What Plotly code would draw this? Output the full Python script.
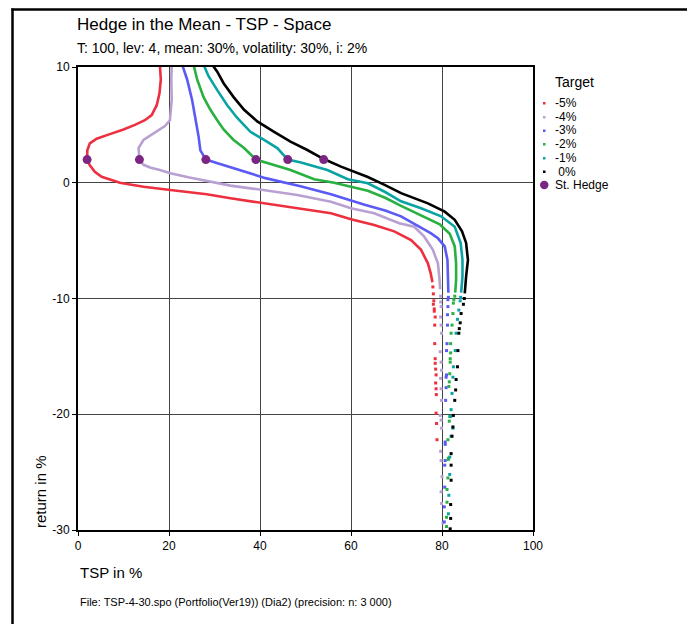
import plotly.graph_objects as go

# ---------------- data ----------------
series_names = ["-5%", "-4%", "-3%", "-2%", "-1%", "0%"]
series_colors = ["#ec3040", "#b9a0d2", "#5a5af5", "#28b040", "#0aa3a3", "#000000"]

# dense (connected) part of each curve: TSP in %, return in %
red_x = [18.0, 18.2, 17.9, 17.3, 16.2, 14.7, 12.5, 10.0, 7.0, 4.1, 2.6, 2.05, 2.0, 2.6, 3.7, 5.2, 9.2, 14.4, 20.3, 28.3, 33.5, 40.1, 48.2, 55.6, 60.0, 65.1, 69.5, 73.2, 75.4, 76.9, 77.5, 77.9]
red_y = [10.2, 8.9, 7.7, 6.7, 5.85, 5.4, 5.0, 4.6, 4.2, 3.8, 3.4, 2.8, 2.0, 1.5, 0.95, 0.52, 0.0, -0.35, -0.63, -1.0, -1.34, -1.72, -2.2, -2.64, -3.16, -3.65, -4.2, -4.95, -5.8, -6.96, -7.8, -8.6]

lav_x = [20.6, 20.5, 20.6, 20.2, 19.1, 16.6, 14.4, 13.3, 13.5, 14.4, 16.0, 18.0, 20.3, 24.5, 29.1, 33.5, 40.7, 48.2, 55.6, 60.0, 65.1, 70.6, 73.9, 76.1, 78.0, 79.1, 79.4, 79.6]
lav_y = [10.2, 8.9, 7.2, 5.4, 4.9, 4.3, 3.7, 3.0, 2.0, 1.55, 1.3, 1.1, 0.82, 0.45, 0.09, -0.25, -0.63, -1.06, -1.64, -2.2, -2.64, -3.5, -3.8, -4.66, -5.8, -6.96, -8.1, -9.2]

blue_x = [22.9, 24.0, 25.1, 25.8, 26.5, 26.9, 28.1, 30.5, 34.2, 41.2, 48.9, 55.6, 63.0, 67.5, 71.0, 74.7, 77.6, 79.1, 80.6, 81.2, 81.3, 81.4]
blue_y = [10.2, 8.9, 7.1, 5.6, 4.0, 2.8, 2.0, 1.7, 1.25, 0.4, -0.3, -1.0, -1.9, -2.4, -2.9, -3.7, -4.37, -4.8, -5.5, -6.67, -8.1, -9.5]

green_x = [25.4, 26.2, 27.6, 29.1, 30.6, 32.0, 34.2, 36.5, 39.1, 41.6, 46.7, 51.9, 56.3, 63.7, 67.5, 71.0, 75.4, 77.5, 79.5, 81.7, 82.8, 83.1, 83.1, 82.9]
green_y = [10.2, 8.9, 7.4, 6.3, 5.4, 4.6, 3.7, 3.0, 2.0, 1.7, 1.1, 0.3, 0.0, -0.7, -1.3, -2.0, -2.8, -3.2, -3.6, -4.4, -5.5, -6.96, -8.4, -9.5]

teal_x = [27.6, 28.7, 30.6, 32.8, 35.0, 37.9, 40.9, 43.8, 46.1, 49.0, 54.8, 59.3, 63.7, 67.5, 71.0, 75.4, 79.8, 82.8, 84.1, 84.5, 84.5, 84.2]
teal_y = [10.2, 9.2, 8.0, 6.7, 5.6, 4.4, 3.7, 3.0, 2.0, 1.75, 1.1, 0.3, -0.05, -0.8, -1.6, -2.2, -2.9, -3.8, -5.2, -6.67, -8.1, -9.5]

black_x = [29.5, 30.6, 32.0, 34.2, 36.5, 39.4, 43.1, 46.7, 50.4, 54.0, 57.8, 63.7, 67.5, 71.0, 76.9, 80.6, 82.8, 84.4, 85.3, 85.7, 85.3, 85.0]
black_y = [10.2, 9.6, 8.6, 7.4, 6.3, 5.3, 4.4, 3.55, 2.83, 2.05, 1.39, 0.5, -0.2, -0.9, -1.78, -2.5, -3.2, -4.2, -5.2, -6.67, -8.1, -9.55]

# sparse (dotted) tail of each curve
red_dx = [78.0, 78.1, 78.2, 78.1, 78.3, 78.3, 78.5, 78.4, 78.4, 78.5, 78.5, 78.6, 78.7, 78.6, 78.7, 78.75, 78.7, 78.8, 78.9]
red_dy = [-9.0, -9.6, -10.2, -10.5, -10.9, -11.1, -11.6, -12.3, -13.9, -15.2, -15.6, -16.1, -16.6, -17.3, -17.8, -18.3, -19.9, -20.8, -22.2]

lav_dx = [79.7, 79.7, 79.8, 79.7, 79.8, 79.9, 79.6, 79.8, 79.9, 79.7, 79.8, 79.9, 79.6, 79.8, 79.9, 79.7, 79.8, 80.0, 79.8, 79.9, 80.2]
lav_dy = [-9.8, -10.3, -10.7, -11.6, -12.3, -13.0, -14.6, -15.5, -16.2, -16.9, -17.8, -18.8, -20.1, -20.5, -21.2, -23.2, -24.0, -25.4, -26.7, -27.7, -29.4]

blue_dx = [81.4, 81.3, 81.3, 81.2, 81.2, 81.1, 81.0, 81.0, 80.9, 80.9, 80.8, 80.7, 80.7, 80.7, 80.6, 80.6, 80.5, 80.5]
blue_dy = [-9.9, -10.1, -10.7, -11.4, -12.3, -13.9, -14.5, -16.6, -16.8, -17.7, -18.8, -22.4, -22.6, -24.0, -24.4, -26.3, -28.0, -29.3]

green_dx = [82.8, 82.6, 82.5, 82.4, 82.2, 82.0, 81.9, 81.9, 81.8, 81.8, 81.7, 81.6, 81.5, 81.7, 81.6, 81.3, 81.4, 81.4, 81.3, 81.1, 81.1, 81.0, 81.0]
green_dy = [-9.8, -10.1, -10.4, -11.3, -12.3, -13.0, -13.9, -14.7, -15.2, -15.5, -16.5, -17.2, -17.6, -20.2, -20.6, -22.2, -23.8, -23.9, -25.5, -26.5, -27.6, -28.9, -29.7]

teal_dx = [84.1, 84.0, 83.7, 83.4, 83.1, 82.9, 82.5, 82.4, 82.2, 82.0, 81.9, 82.4, 82.0, 81.7, 81.7, 81.5, 81.4]
teal_dy = [-9.9, -10.2, -11.0, -11.8, -13.0, -14.5, -15.9, -16.8, -18.2, -19.6, -20.2, -21.2, -21.9, -23.7, -25.2, -27.0, -28.6]

black_dx = [84.9, 84.7, 84.2, 84.0, 83.8, 83.7, 83.5, 83.4, 83.1, 83.0, 82.8, 82.5, 82.4, 82.2, 82.0, 82.0, 82.0, 81.9, 81.9, 81.8]
black_dy = [-10.0, -10.5, -11.3, -12.1, -12.6, -13.0, -14.5, -15.9, -17.0, -17.9, -18.8, -20.1, -21.1, -21.9, -23.4, -24.4, -25.7, -27.8, -29.0, -29.9]

# standard hedge points
hedge_x = [2.0, 13.5, 28.1, 39.1, 46.1, 54.0]
hedge_y = [2.0, 2.0, 2.0, 2.0, 2.0, 2.0]
hedge_name = "St. Hedge"
hedge_color = "#7b2683"

x_ticks = [0, 20, 40, 60, 80, 100]
y_ticks = [10, 0, -10, -20, -30]
y_tick_labels = ["10", "0", "-10", "-20", "-30"]

title_text = "Hedge in the Mean - TSP - Space"
subtitle_text = "T: 100, lev: 4, mean: 30%, volatility: 30%, i: 2%"
footer_text = "File: TSP-4-30.spo (Portfolio(Ver19)) (Dia2) (precision: n: 3 000)"
x_title = "TSP in %"
y_title = "return in %"
legend_title = "Target"

lines = [(red_x, red_y), (lav_x, lav_y), (blue_x, blue_y), (green_x, green_y), (teal_x, teal_y), (black_x, black_y)]
dots = [(red_dx, red_dy), (lav_dx, lav_dy), (blue_dx, blue_dy), (green_dx, green_dy), (teal_dx, teal_dy), (black_dx, black_dy)]

# ---------------- layout geometry ----------------
OFF = 8  # page offset of the figure (body margin)
W, H = 695 - OFF, 624 - OFF
ML, MT = 78 - OFF, 67 - OFF
PW, PH = 455, 463
MR, MB = W - ML - PW, H - MT - PH
FONT = "Liberation Sans, Arial, sans-serif"


def px(xp):
    return (xp - OFF - ML) / PW


def py(yp):
    return (H - MB - (yp - OFF)) / PH


fig = go.Figure()

for (lx, ly), (dx, dy), name, col in zip(lines, dots, series_names, series_colors):
    fig.add_trace(go.Scatter(x=lx, y=ly, mode="lines", name=name,
                             line=dict(color=col, width=2.6), showlegend=False,
                             hoverinfo="skip"))
    fig.add_trace(go.Scatter(x=dx, y=dy, mode="markers", name=name,
                             marker=dict(color=col, size=3, symbol="square", line=dict(width=0)),
                             showlegend=False, hoverinfo="skip"))

fig.add_trace(go.Scatter(x=hedge_x, y=hedge_y, mode="markers", name=hedge_name,
                         marker=dict(color=hedge_color, size=9, line=dict(width=0)),
                         showlegend=False))

axis_common = dict(showline=True, linecolor="black", linewidth=2, mirror=True,
                   showgrid=True, gridcolor="#444444", gridwidth=1,
                   zeroline=False, ticks="outside", ticklen=4, tickcolor="black",
                   tickfont=dict(family=FONT, size=12, color="black"))

fig.update_xaxes(range=[0, 100], tickvals=x_ticks, **axis_common)
fig.update_yaxes(range=[-30, 10], tickvals=y_ticks, ticktext=y_tick_labels, **axis_common)

annotations = [
    dict(text=title_text, x=px(75), y=py(24), xanchor="left", yanchor="middle",
         font=dict(family=FONT, size=17, color="black")),
    dict(text=subtitle_text, x=px(75), y=py(48), xanchor="left", yanchor="middle",
         font=dict(family=FONT, size=14, color="black")),
    dict(text=x_title, x=px(78), y=py(572), xanchor="left", yanchor="middle",
         font=dict(family=FONT, size=15, color="black")),
    dict(text=y_title, x=px(40), y=py(492), xanchor="center", yanchor="middle",
         textangle=-90, font=dict(family=FONT, size=15, color="black")),
    dict(text=footer_text, x=px(78), y=py(602), xanchor="left", yanchor="middle",
         font=dict(family=FONT, size=11, color="black")),
    dict(text=legend_title, x=px(553), y=py(82), xanchor="left", yanchor="middle",
         font=dict(family=FONT, size=14, color="black")),
]

shapes = [
    # outer frame (left and top edges visible)
    dict(type="line", xref="paper", yref="paper", x0=px(12.5), x1=px(12.5), y0=py(8.5), y1=py(640),
         line=dict(color="black", width=2.5)),
    dict(type="line", xref="paper", yref="paper", x0=px(11.3), x1=px(710), y0=py(9.6), y1=py(9.6),
         line=dict(color="black", width=2.5)),
]

row_y = [103, 117, 130.5, 144, 158, 171.5, 185]
for i, (name, col) in enumerate(zip(series_names, series_colors)):
    label = name if not name.startswith("0") else "\u00a0" + name
    annotations.append(dict(text=label, x=px(553), y=py(row_y[i]), xanchor="left", yanchor="middle",
                            font=dict(family=FONT, size=12, color="black")))
    shapes.append(dict(type="rect", xref="paper", yref="paper",
                       x0=px(543), x1=px(545.5), y0=py(row_y[i] + 1.5), y1=py(row_y[i] - 1),
                       fillcolor=col, line=dict(width=0)))
annotations.append(dict(text=hedge_name, x=px(553), y=py(row_y[6]), xanchor="left", yanchor="middle",
                        font=dict(family=FONT, size=12, color="black")))
shapes.append(dict(type="circle", xref="paper", yref="paper",
                   x0=px(540), x1=px(548.5), y0=py(row_y[6] + 4.2), y1=py(row_y[6] - 4.2),
                   fillcolor=hedge_color, line=dict(width=0)))

for a in annotations:
    a.update(xref="paper", yref="paper", showarrow=False)

fig.update_layout(
    width=W, height=H,
    margin=dict(l=ML, r=MR, t=MT, b=MB, pad=0),
    paper_bgcolor="white", plot_bgcolor="white",
    showlegend=False,
    annotations=annotations,
    shapes=shapes,
    font=dict(family=FONT, color="black"),
)

fig.write_html("out.html")
